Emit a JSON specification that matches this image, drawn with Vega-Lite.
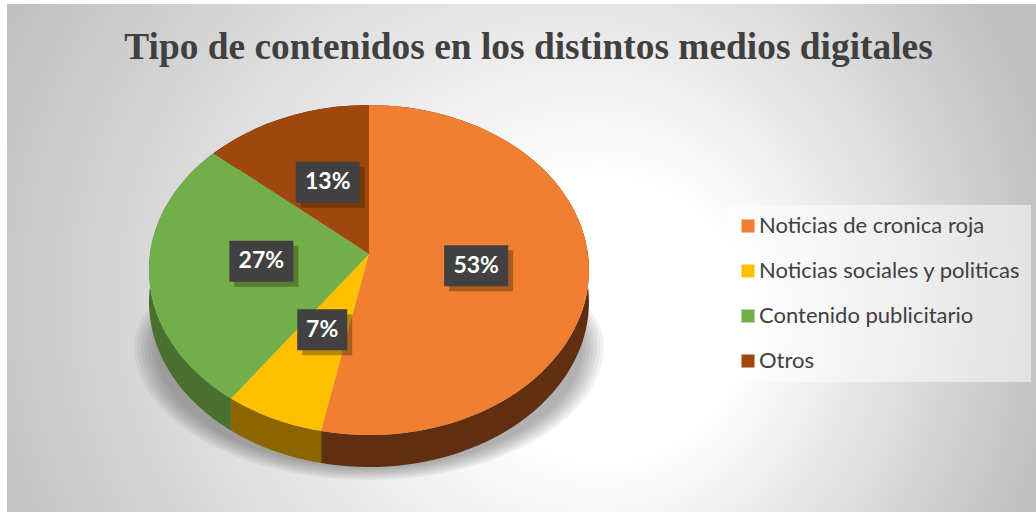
{
"$schema":"https://vega.github.io/schema/vega-lite/v6.json",
"width":1029,"height":508,
"autosize":{"type":"none"},
"padding":{"left":7,"top":4,"right":0,"bottom":0},
"background":"white",
"view":{"stroke":null},
"title":{"text":"Tipo de contenidos en los distintos medios digitales","font":"Liberation Serif","fontSize":37.4,"fontWeight":"bold","color":"#404040","anchor":"middle","frame":"group","offset":-62,"dx":7},
"datasets":{
"pie":[
{"categoria":"Noticias de cronica roja","orden":1,"porcentaje":53.49},
{"categoria":"Noticias sociales y politicas","orden":2,"porcentaje":7.31},
{"categoria":"Contenido publicitario","orden":3,"porcentaje":26.7},
{"categoria":"Otros","orden":4,"porcentaje":12.5}],
"sombra":[{"k":1.0},{"k":0.985},{"k":0.97},{"k":0.955},{"k":0.94},{"k":0.925},{"k":0.91}],
"fondo":[{"capa":"fondo"}]
},
"data":{"name":"pie"},
"transform":[
{"window":[{"op":"sum","field":"porcentaje","as":"acum"}],"sort":[{"field":"orden"}]},
{"calculate":"(datum.acum-datum.porcentaje)/100*2*PI","as":"a0"},
{"calculate":"datum.acum/100*2*PI","as":"a1"},
{"calculate":"(datum.a0+datum.a1)/2","as":"am"},
{"calculate":"round(220*sin(datum.a0)*100)/100","as":"x0"},
{"calculate":"round(-165*cos(datum.a0)*100)/100","as":"y0"},
{"calculate":"round(220*sin(datum.a1)*100)/100","as":"x1"},
{"calculate":"round(-165*cos(datum.a1)*100)/100","as":"y1"},
{"calculate":"datum.porcentaje>50?1:0","as":"grande"},
{"calculate":"'M0,-16L'+datum.x0+','+datum.y0+'A220,165 0 '+datum.grande+' 1 '+datum.x1+','+datum.y1+'Z'","as":"cuna"},
{"calculate":"'M'+datum.x0+','+datum.y0+'A220,165 0 '+datum.grande+' 1 '+datum.x1+','+datum.y1+'L'+datum.x1+','+(datum.y1+32)+'A220,165 0 '+datum.grande+' 0 '+datum.x0+','+(datum.y0+32)+'Z'","as":"lado"},
{"calculate":"369","as":"cx"},
{"calculate":"270","as":"cy"},
{"calculate":"369+0.49*220*sin(datum.am)","as":"lx"},
{"calculate":"257-0.49*165*cos(datum.am)","as":"ly"},
{"calculate":"datum.lx+5","as":"lxs"},
{"calculate":"datum.ly+5","as":"lys"},
{"calculate":"datum.porcentaje<10?'M-25,-20.5H25V20.5H-25Z':'M-32,-20.5H32V20.5H-32Z'","as":"caja"},
{"calculate":"round(datum.porcentaje)+'%'","as":"etiqueta"}
],
"layer":[
{"data":{"name":"fondo"},
 "transform":[{"calculate":"500","as":"cx"},{"calculate":"290","as":"cy"}],
 "mark":{"type":"point","filled":true,"size":4,"opacity":1,"clip":true,"shape":"M-560,-560H560V560H-560Z","fill":{"gradient":"radial","x1":0.625,"y1":0.536,"r1":0,"x2":0.5,"y2":0.5,"r2":0.5,"stops":[{"offset":0,"color":"#ffffff"},{"offset":0.25,"color":"#ffffff"},{"offset":1,"color":"#c0c0c0"}]}},
 "encoding":{
  "x":{"field":"cx","type":"quantitative","axis":null,"scale":{"domain":[7,1036],"nice":false,"zero":false}},
  "y":{"field":"cy","type":"quantitative","axis":null,"scale":{"domain":[512,4],"nice":false,"zero":false}}}},
{"data":{"name":"sombra"},
 "transform":[
 {"calculate":"369","as":"cx"},{"calculate":"345","as":"cy"},
 {"calculate":"'M'+(-235*datum.k)+',0A'+(235*datum.k)+','+(135*datum.k)+' 0 0 0 '+(235*datum.k)+',0A'+(235*datum.k)+','+(100*datum.k)+' 0 0 0 '+(-235*datum.k)+',0Z'","as":"elipse"}],
 "mark":{"type":"point","filled":true,"size":4,"opacity":0.065,"color":"#404040"},
 "encoding":{
  "x":{"field":"cx","type":"quantitative","axis":null,"scale":{"domain":[7,1036],"nice":false,"zero":false}},
  "y":{"field":"cy","type":"quantitative","axis":null,"scale":{"domain":[512,4],"nice":false,"zero":false}},
  "shape":{"field":"elipse","type":"nominal","scale":null,"legend":null}}},
{"mark":{"type":"point","filled":true,"size":4,"opacity":1},
 "encoding":{
  "x":{"field":"cx","type":"quantitative","axis":null,"scale":{"domain":[7,1036],"nice":false,"zero":false}},
  "y":{"field":"cy","type":"quantitative","axis":null,"scale":{"domain":[512,4],"nice":false,"zero":false}},
  "shape":{"field":"lado","type":"nominal","scale":null,"legend":null},
  "color":{"field":"categoria","type":"nominal","legend":null,"scale":{"domain":["Noticias de cronica roja","Noticias sociales y politicas","Contenido publicitario","Otros"],"range":["#602f12","#8a6500","#4a7030","#5c2c0c"]}}}},
{"mark":{"type":"point","filled":true,"size":4,"opacity":1},
 "encoding":{
  "x":{"field":"cx","type":"quantitative","axis":null,"scale":{"domain":[7,1036],"nice":false,"zero":false}},
  "y":{"field":"cy","type":"quantitative","axis":null,"scale":{"domain":[512,4],"nice":false,"zero":false}},
  "shape":{"field":"cuna","type":"nominal","scale":null,"legend":null},
  "color":{"field":"categoria","type":"nominal","sort":null,
   "scale":{"domain":["Noticias de cronica roja","Noticias sociales y politicas","Contenido publicitario","Otros"],"range":["#f07f32","#ffc000","#72af4b","#9e480e"]},
   "legend":{"title":null,"orient":"none","legendX":720,"legendY":201,"fillColor":"rgba(255,255,255,0.5)","padding":10,"symbolType":"square","symbolSize":170,"symbolOpacity":1,"symbolStrokeWidth":0,"labelFont":"Lato","labelFontSize":22,"labelColor":"#404040","labelLimit":300,"labelOffset":0,"rowPadding":23}}}},
{"mark":{"type":"point","filled":true,"size":4,"opacity":0.35,"color":"#2a1a00"},
 "encoding":{
  "x":{"field":"lxs","type":"quantitative","axis":null,"scale":{"domain":[7,1036],"nice":false,"zero":false}},
  "y":{"field":"lys","type":"quantitative","axis":null,"scale":{"domain":[512,4],"nice":false,"zero":false}},
  "shape":{"field":"caja","type":"nominal","scale":null,"legend":null}}},
{"mark":{"type":"point","filled":true,"size":4,"opacity":1,"color":"#414141"},
 "encoding":{
  "x":{"field":"lx","type":"quantitative","axis":null,"scale":{"domain":[7,1036],"nice":false,"zero":false}},
  "y":{"field":"ly","type":"quantitative","axis":null,"scale":{"domain":[512,4],"nice":false,"zero":false}},
  "shape":{"field":"caja","type":"nominal","scale":null,"legend":null}}},
{"mark":{"type":"text","font":"Lato","fontSize":23,"fontWeight":"bold","color":"#ffffff","align":"center","baseline":"middle"},
 "encoding":{
  "x":{"field":"lx","type":"quantitative","axis":null,"scale":{"domain":[7,1036],"nice":false,"zero":false}},
  "y":{"field":"ly","type":"quantitative","axis":null,"scale":{"domain":[512,4],"nice":false,"zero":false}},
  "text":{"field":"etiqueta","type":"nominal"}}}
],
"resolve":{"scale":{"color":"independent","shape":"independent"}}
}
